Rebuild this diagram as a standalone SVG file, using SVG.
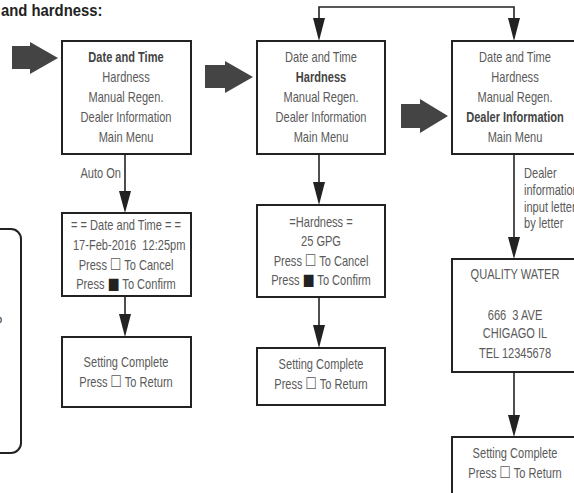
<svg xmlns="http://www.w3.org/2000/svg" width="574" height="493" viewBox="0 0 574 493">
<style>
.box{fill:#fff;stroke:#222;stroke-width:2}
.t{font-family:"Liberation Sans",Arial,sans-serif;font-size:14px;fill:#5a5a5a;text-anchor:middle;white-space:pre}
.b{font-weight:bold;fill:#444}
.l{text-anchor:start}
.r{text-anchor:end}
.sq{font-size:16px;font-family:"DejaVu Sans",sans-serif}
.fsq{fill:#222}
.ln{stroke:#222;stroke-width:1.6;fill:none}
.ah{fill:#222}
.big{fill:#444}
</style>
<text transform="matrix(0.9,0,0,1,1,0)" x="0" y="16" style="font-family:'Liberation Sans',Arial,sans-serif;font-size:16.5px;font-weight:bold;fill:#222">and hardness:</text>
<path d="M-10,229 H11 a10,10 0 0 1 10,10 V443 a10,10 0 0 1 -10,10 H-10" class="ln" style="stroke-width:2"/>
<text x="-4" y="323" class="t l" style="fill:#222;font-size:11px">p</text>
<g id="bigarrows">
<polygon class="big" points="12,46 30,46 30,42 58,58 30,74 30,69 12,69"/>
<polygon class="big" points="205,65 225,65 225,61 253,77 225,93 225,88 205,88"/>
<polygon class="big" points="401,104 420,104 420,99 448,116 420,133 420,128 401,128"/>
</g>
<g id="connectors">
<path class="ln" d="M319,20 V7 H514 V20"/>
<polygon class="ah" points="313,18 325,18 319,41"/>
<polygon class="ah" points="508,18 520,18 514,41"/>
<line class="ln" x1="125" y1="154" x2="125" y2="195"/>
<polygon class="ah" points="119,191 131,191 125,213"/>
<line class="ln" x1="125" y1="296" x2="125" y2="316"/>
<polygon class="ah" points="119,314 131,314 125,337"/>
<line class="ln" x1="319" y1="154" x2="319" y2="185"/>
<polygon class="ah" points="313,182 325,182 319,205"/>
<line class="ln" x1="319" y1="297" x2="319" y2="327"/>
<polygon class="ah" points="313,325 325,325 319,348"/>
<line class="ln" x1="514" y1="154" x2="514" y2="240"/>
<polygon class="ah" points="508,237 520,237 514,259"/>
<line class="ln" x1="514" y1="372" x2="514" y2="418"/>
<polygon class="ah" points="508,415 520,415 514,437"/>
<text transform="matrix(0.79,0,0,1,121,0)" x="0" y="178" class="t r">Auto On</text>
<text transform="matrix(0.79,0,0,1,524,0)" class="t l" x="0" y="178">Dealer</text>
<text transform="matrix(0.79,0,0,1,524,0)" class="t l" x="0" y="195">information</text>
<text transform="matrix(0.79,0,0,1,524,0)" class="t l" x="0" y="212">input letter</text>
<text transform="matrix(0.79,0,0,1,524,0)" class="t l" x="0" y="228">by letter</text>
</g>
<g id="menu1" transform="translate(126,0)">
<rect class="box" x="-64" y="41" width="129" height="113"/>
<g transform="scale(0.79,1)">
<text class="t b" x="0" y="62">Date and Time</text>
<text class="t" x="0" y="82">Hardness</text>
<text class="t" x="0" y="102">Manual Regen.</text>
<text class="t" x="0" y="122">Dealer Information</text>
<text class="t" x="0" y="142">Main Menu</text>
</g>
</g>
<g id="menu2" transform="translate(321,0)">
<rect class="box" x="-64" y="41" width="128" height="113"/>
<g transform="scale(0.79,1)">
<text class="t" x="0" y="62">Date and Time</text>
<text class="t b" x="0" y="82">Hardness</text>
<text class="t" x="0" y="102">Manual Regen.</text>
<text class="t" x="0" y="122">Dealer Information</text>
<text class="t" x="0" y="142">Main Menu</text>
</g>
</g>
<g id="menu3" transform="translate(515,0)">
<rect class="box" x="-63" y="41" width="130" height="113"/>
<g transform="scale(0.79,1)">
<text class="t" x="0" y="62">Date and Time</text>
<text class="t" x="0" y="82">Hardness</text>
<text class="t" x="0" y="102">Manual Regen.</text>
<text class="t b" x="0" y="122">Dealer Information</text>
<text class="t" x="0" y="142">Main Menu</text>
</g>
</g>
<g id="datetime" transform="translate(126,0)">
<rect class="box" x="-64" y="213" width="129" height="83"/>
<g transform="scale(0.79,1)">
<text class="t" x="0" y="230">= = Date and Time = =</text>
<text class="t" x="4" y="250">17-Feb-2016  12:25pm</text>
<text class="t" x="0" y="270">Press <tspan class="sq">☐</tspan> To Cancel</text>
<text class="t" x="0" y="289">Press <tspan class="sq fsq">■</tspan> To Confirm</text>
</g>
</g>
<g id="complete1" transform="translate(126,0)">
<rect class="box" x="-64" y="337" width="129" height="70"/>
<g transform="scale(0.79,1)">
<text class="t" x="0" y="367">Setting Complete</text>
<text class="t" x="0" y="387">Press <tspan class="sq">☐</tspan> To Return</text>
</g>
</g>
<g id="hardness" transform="translate(321,0)">
<rect class="box" x="-64" y="205" width="128" height="92"/>
<g transform="scale(0.79,1)">
<text class="t" x="0" y="227">=Hardness =</text>
<text class="t" x="0" y="246">25 GPG</text>
<text class="t" x="0" y="266">Press <tspan class="sq">☐</tspan> To Cancel</text>
<text class="t" x="0" y="285">Press <tspan class="sq fsq">■</tspan> To Confirm</text>
</g>
</g>
<g id="complete2" transform="translate(321,0)">
<rect class="box" x="-64" y="348" width="128" height="57"/>
<g transform="scale(0.79,1)">
<text class="t" x="0" y="369">Setting Complete</text>
<text class="t" x="0" y="389">Press <tspan class="sq">☐</tspan> To Return</text>
</g>
</g>
<g id="dealer" transform="translate(515,0)">
<rect class="box" x="-63" y="259" width="130" height="113"/>
<g transform="scale(0.79,1)">
<text class="t" x="0" y="279">QUALITY WATER</text>
<text class="t" x="0" y="320">666  3 AVE</text>
<text class="t" x="0" y="338">CHIGAGO IL</text>
<text class="t" x="0" y="358">TEL 12345678</text>
</g>
</g>
<g id="complete3" transform="translate(515,0)">
<rect class="box" x="-63" y="437" width="130" height="70"/>
<g transform="scale(0.79,1)">
<text class="t" x="0" y="458">Setting Complete</text>
<text class="t" x="0" y="478">Press <tspan class="sq">☐</tspan> To Return</text>
</g>
</g>
</svg>
